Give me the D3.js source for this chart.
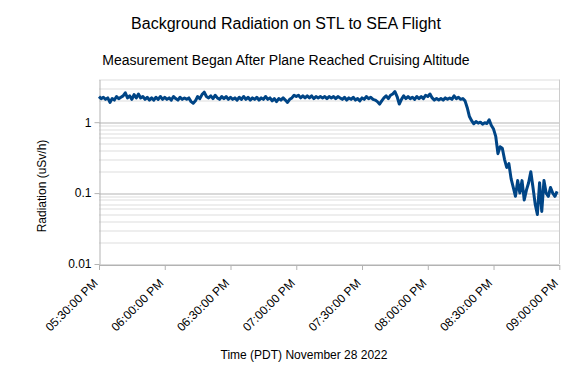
<!DOCTYPE html>
<html>
<head>
<meta charset="utf-8">
<script src="https://cdn.jsdelivr.net/npm/d3@7"></script>
<style>
  body { margin: 0; background: #fff; }
  text { font-family: "Liberation Sans", Arial, sans-serif; }
</style>
</head>
<body>
<div id="chart"></div>
<script>
// readings, one per minute starting 05:30 PM
const startTime = new Date(2022, 10, 28, 17, 30, 0);
const stepMinutes = 1;

// cruising part (05:30 PM .. 08:14 PM)
const cruise = [
  2.3, 2.15, 2.25, 2.1, 2.2, 1.9, 2.15, 2.05, 2.3, 2.15,
  2.25, 2.35, 2.6, 2.2, 2.35, 2.1, 2.45, 2.2, 2.5, 2.2,
  2.3, 2.1, 2.25, 2.05, 2.2, 2.05, 2.25, 2.1, 2.3, 2.1,
  2.25, 2.1, 2.2, 2.05, 2.3, 2.15, 2.05, 2.25, 2.1, 2.2,
  2.1, 2.2, 1.95, 1.85, 2.0, 2.3, 2.15, 2.45, 2.65, 2.3,
  2.2, 2.35, 2.15, 2.4, 2.2, 2.1, 2.3, 2.15, 2.3, 2.1,
  2.25, 2.1, 2.2, 2.05, 2.25, 2.1, 2.3, 2.1, 2.25, 2.05,
  2.2, 2.1, 2.25, 2.05, 2.2, 2.1, 2.3, 2.1, 2.2, 2.0,
  2.15, 1.95, 2.15, 2.05, 2.2, 2.05, 1.9, 2.1, 2.2, 2.4,
  2.3, 2.4, 2.2, 2.35, 2.2, 2.35, 2.2, 2.35, 2.15, 2.3,
  2.2, 2.3, 2.2, 2.3, 2.15, 2.3, 2.2, 2.3, 2.15, 2.3,
  2.2, 2.1, 2.25, 2.05, 2.2, 2.1, 2.25, 2.05, 2.15, 2.0,
  2.2, 2.1, 2.3, 2.15, 2.25, 2.1, 2.05, 1.95, 1.8, 2.0,
  2.2, 2.35, 2.15, 2.4, 2.5, 2.7, 2.3, 1.8, 2.1, 2.35,
  2.15, 2.3, 2.15, 2.25, 2.1, 2.3, 2.15, 2.3, 2.15, 2.4,
  2.3, 2.5, 2.2, 2.05, 2.15, 2.05, 2.15, 2.05, 2.2, 2.1,
  2.2, 2.1, 2.35, 2.15, 2.25
];

// descent part (08:15 PM .. 08:59 PM)
const descent = [
  2.1, 2.15, 2.0, 1.6, 1.2, 1.05, 0.95, 1.02, 0.97, 1.0,
  0.94, 0.98, 0.96, 1.08, 0.9, 0.8, 0.63, 0.36, 0.45, 0.43,
  0.3, 0.23, 0.26, 0.16, 0.12, 0.09, 0.15, 0.1, 0.15, 0.08,
  0.11, 0.14, 0.2, 0.12, 0.07, 0.05, 0.14, 0.055, 0.15, 0.1,
  0.09, 0.12, 0.1, 0.09, 0.106
];

const yTicks = [0.01, 0.1, 1];
const yTickLabels = ["0.01", "0.1", "1"];
const xTickCount = 8; // 05:30 .. 09:00 every 30 min

const title = "Background Radiation on STL to SEA Flight";
const subtitle = "Measurement Began After Plane Reached Cruising Altitude";
const xTitle = "Time (PDT) November 28 2022";
const yTitle = "Radiation (uSv/h)";

const drawChart = () => {
  const width = 572;
  const height = 377;
  const margin = { top: 79.5, left: 99, bottom: 113, right: 12.7 };
  const iwidth = width - margin.left - margin.right;
  const iheight = height - margin.top - margin.bottom;

  const values = cruise.concat(descent);
  const data = values.map((v, i) => ({
    t: d3.timeMinute.offset(startTime, i * stepMinutes),
    v: v,
  }));

  const svg = d3
    .select("#chart")
    .append("svg")
    .attr("width", width)
    .attr("height", height);

  const endTime = d3.timeMinute.offset(startTime, (xTickCount - 1) * 30);
  const x = d3.scaleTime().domain([startTime, endTime]).range([0, iwidth]);
  const y = d3.scaleLog().domain([0.01, 4]).range([iheight, 0]);

  const g = svg
    .append("g")
    .attr("transform", `translate(${margin.left},${margin.top})`);

  // minor grid
  const minor = [];
  [0.01, 0.1, 1].forEach((d) => {
    for (let k = 2; k <= 9; k++) {
      const val = +(k * d).toPrecision(3);
      if (val <= 4) minor.push(val);
    }
  });
  g.selectAll("line.minor")
    .data(minor)
    .enter()
    .append("line")
    .attr("class", "minor")
    .attr("x1", 0)
    .attr("x2", iwidth)
    .attr("y1", (d) => Math.round(y(d)) + 0.5)
    .attr("y2", (d) => Math.round(y(d)) + 0.5)
    .attr("stroke", "#dddddd");

  // major grid
  g.selectAll("line.major")
    .data(yTicks)
    .enter()
    .append("line")
    .attr("class", "major")
    .attr("x1", 0)
    .attr("x2", iwidth)
    .attr("y1", (d) => Math.round(y(d)) + 0.5)
    .attr("y2", (d) => Math.round(y(d)) + 0.5)
    .attr("stroke", "#b3b3b3");

  // right border
  g.append("line")
    .attr("x1", Math.round(iwidth) + 0.5)
    .attr("x2", Math.round(iwidth) + 0.5)
    .attr("y1", 0)
    .attr("y2", iheight)
    .attr("stroke", "#cccccc");

  const xTickValues = d3.range(xTickCount).map((i) =>
    d3.timeMinute.offset(startTime, i * 30)
  );

  const xAxis = g
    .append("g")
    .attr("transform", `translate(0, ${Math.round(iheight) + 0.5})`)
    .call(
      d3
        .axisBottom(x)
        .tickValues(xTickValues)
        .tickSizeInner(5)
        .tickSizeOuter(0)
        .tickFormat(d3.timeFormat("%I:%M:%S %p"))
    );
  xAxis.select(".domain").attr("stroke", "#b3b3b3");
  xAxis.selectAll(".tick line").attr("stroke", "#b3b3b3");
  xAxis
    .selectAll(".tick text")
    .attr("font-size", 12)
    .attr("fill", "#000")
    .attr("text-anchor", "end")
    .attr("dy", null)
    .attr("y", 0)
    .attr("transform", "translate(-1,19) rotate(-45)");

  const yAxis = g
    .append("g")
    .attr("transform", "translate(0.5,0)")
    .call(
      d3
        .axisLeft(y)
        .tickValues(yTicks)
        .tickSizeInner(5)
        .tickSizeOuter(0)
        .tickPadding(3)
        .tickFormat((d, i) => yTickLabels[i])
    );
  yAxis.select(".domain").attr("stroke", "#b3b3b3");
  yAxis.selectAll(".tick line").attr("stroke", "#b3b3b3");
  yAxis.selectAll(".tick text").attr("font-size", 12).attr("fill", "#000");

  const line = d3
    .line()
    .x((d) => x(d.t))
    .y((d) => y(d.v));

  g.append("path")
    .datum(data)
    .attr("fill", "none")
    .attr("stroke", "#004586")
    .attr("stroke-width", 3)
    .attr("stroke-linejoin", "round")
    .attr("d", line);

  svg.append("text")
    .attr("x", 286)
    .attr("y", 28.5)
    .attr("text-anchor", "middle")
    .attr("font-size", 16)
    .text(title);

  svg.append("text")
    .attr("x", 286)
    .attr("y", 64.5)
    .attr("text-anchor", "middle")
    .attr("font-size", 14)
    .text(subtitle);

  svg.append("text")
    .attr("x", 304)
    .attr("y", 359)
    .attr("text-anchor", "middle")
    .attr("font-size", 12)
    .text(xTitle);

  svg.append("text")
    .attr("transform", "translate(46,186) rotate(-90)")
    .attr("text-anchor", "middle")
    .attr("font-size", 12)
    .text(yTitle);
};

drawChart();
</script>
</body>
</html>
